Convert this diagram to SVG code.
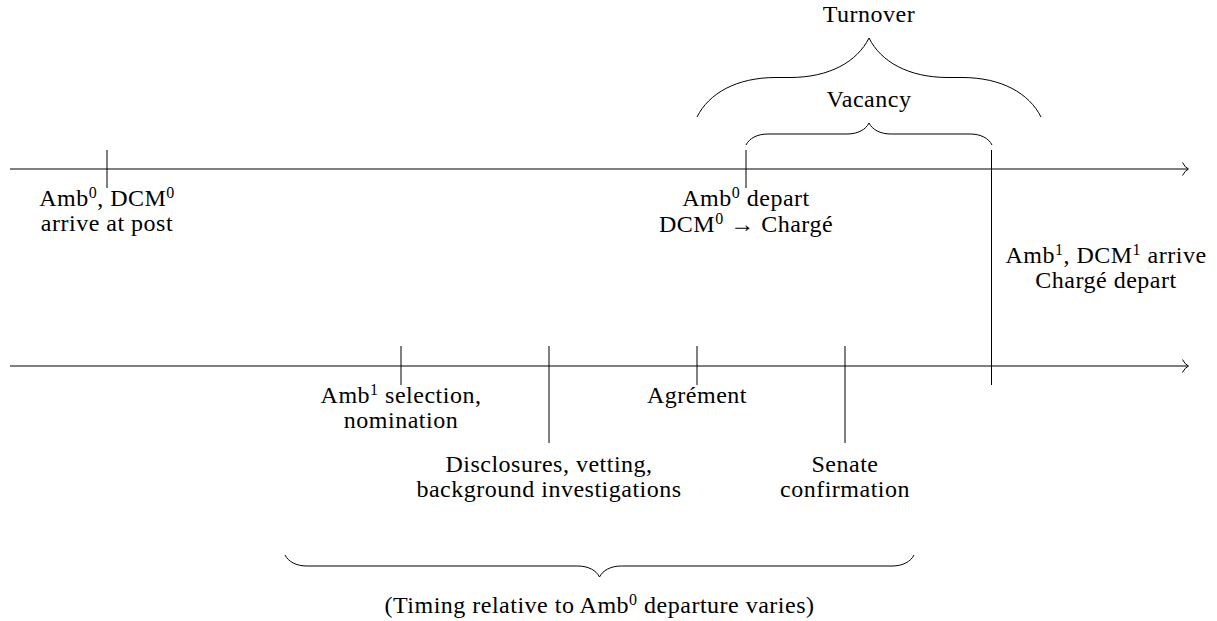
<svg xmlns="http://www.w3.org/2000/svg" width="1217" height="621" viewBox="0 0 1217 621">
<style>
text{font-family:"Liberation Serif","DejaVu Serif",serif;font-size:24px;letter-spacing:0.5px;fill:#000;text-anchor:middle}
.sup{font-size:16px}
.ln{fill:none;stroke:#000;stroke-width:1}
</style>
<rect width="1217" height="621" fill="#fff"/>
<g id="connectors">
<path class="ln" d="M10,169 H1188"/>
<path class="ln" d="M1182.5,162.5 Q1185,167.5 1188.5,169 Q1185,170.5 1182.5,175.5"/>
<path class="ln" d="M10,366 H1188"/>
<path class="ln" d="M1182.5,359.5 Q1185,364.5 1188.5,366 Q1185,367.5 1182.5,372.5"/>
</g>
<g id="arrive-post">
<path class="ln" d="M107,150 V188"/>
<text x="107" y="206">Amb<tspan class="sup" dy="-8">0</tspan><tspan dy="8">, DCM</tspan><tspan class="sup" dy="-8">0</tspan></text>
<text x="107" y="231">arrive at post</text>
</g>
<g id="amb0-depart">
<path class="ln" d="M746,150 V188"/>
<text x="746" y="206">Amb<tspan class="sup" dy="-8">0</tspan><tspan dy="8"> depart</tspan></text>
<text x="746" y="232">DCM<tspan class="sup" dy="-8">0</tspan><tspan dy="8"> → Chargé</tspan></text>
</g>
<g id="amb1-arrive">
<path class="ln" d="M991.5,150 V385"/>
<text x="1106" y="263">Amb<tspan class="sup" dy="-8">1</tspan><tspan dy="8">, DCM</tspan><tspan class="sup" dy="-8">1</tspan><tspan dy="8"> arrive</tspan></text>
<text x="1106" y="288">Chargé depart</text>
</g>
<g id="turnover">
<path class="ln" d="M697,117 C708.85,93.3 736.5,77.5 776,77.5 L790,77.5 C829.5,77.5 857.15,61.7 869,38 C880.85,61.7 908.5,77.5 948,77.5 L962,77.5 C1001.5,77.5 1029.15,93.3 1041,117"/>
<text x="869" y="22">Turnover</text>
</g>
<g id="vacancy">
<path class="ln" d="M746,145 C749.3,138.4 757,134 768,134 L847,134 C858,134 865.7,129.6 869,123 C872.3,129.6 880,134 891,134 L970,134 C981,134 988.7,138.4 992,145"/>
<text x="869" y="107">Vacancy</text>
</g>
<g id="selection">
<path class="ln" d="M401,346 V385"/>
<text x="401" y="403">Amb<tspan class="sup" dy="-8">1</tspan><tspan dy="8"> selection,</tspan></text>
<text x="401" y="428">nomination</text>
</g>
<g id="vetting">
<path class="ln" d="M549,346 V443"/>
<text x="549" y="472">Disclosures, vetting,</text>
<text x="549" y="497">background investigations</text>
</g>
<g id="agrement">
<path class="ln" d="M697,346 V385"/>
<text x="697" y="403">Agrément</text>
</g>
<g id="confirmation">
<path class="ln" d="M845,346 V443"/>
<text x="845" y="472">Senate</text>
<text x="845" y="497">confirmation</text>
</g>
<g id="timing">
<path class="ln" d="M285,555 C288.3,561.6 296,566 307,566 L577.5,566 C588.5,566 596.2,570.4 599.5,577 C602.8,570.4 610.5,566 621.5,566 L892,566 C903,566 910.7,561.6 914,555"/>
<text x="599.5" y="613">(Timing relative to Amb<tspan class="sup" dy="-8">0</tspan><tspan dy="8"> departure varies)</tspan></text>
</g>
</svg>
